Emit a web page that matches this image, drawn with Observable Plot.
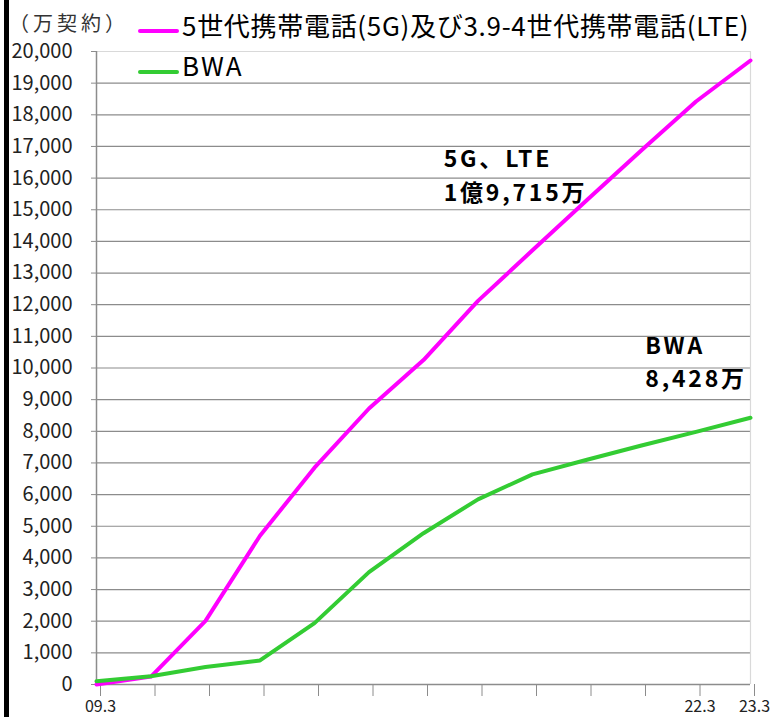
<!DOCTYPE html>
<html>
<head>
<meta charset="utf-8">
<script src="https://cdn.jsdelivr.net/npm/d3@7"></script>
<script src="https://cdn.jsdelivr.net/npm/@observablehq/plot@0.6"></script>
<style>
  html, body { margin: 0; padding: 0; background: #fff; }
  #wrap { position: relative; width: 779px; height: 717px; overflow: hidden; font-family: 'Noto Sans CJK JP', sans-serif; }
  #bar { position: absolute; left: 4px; top: 0; width: 5px; height: 717px; background: #000; }
  .lg { position: absolute; white-space: nowrap; line-height: 1; }
  .sw { position: absolute; height: 4px; width: 41px; border-radius: 2px; }
  #chart [font-weight="bold"], #chart [font-weight="bold"] text { letter-spacing: 2.8px; }
</style>
</head>
<body>
<div id="wrap">
  <div id="chart"></div>
  <div id="bar"></div>
  <div class="lg" id="unit" style="left:9px; top:13px; font-size:20px; color:#333; letter-spacing:4px;"></div>
  <div class="sw" id="sw1" style="left:138px; top:29px;"></div>
  <div class="lg" id="lt1" style="left:182px; top:12px; font-size:26px; color:#000; letter-spacing:0.7px;"></div>
  <div class="sw" id="sw2" style="left:138px; top:70px;"></div>
  <div class="lg" id="lt2" style="left:182px; top:52px; font-size:26px; color:#000; letter-spacing:2px;"></div>
</div>
<script>
// ---- data ----
const xTickLabels = ["09.3", "", "", "", "", "", "", "", "", "", "", "22.3", "23.3"];
const lteValues = [0, 250, 2010, 4700, 6850, 8720, 10250, 12120, 13720, 15310, 16880, 18420, 19715];
const bwaValues = [100, 260, 550, 760, 1940, 3550, 4780, 5850, 6640, 7100, 7550, 7980, 8428];
const yTicks = [0, 1000, 2000, 3000, 4000, 5000, 6000, 7000, 8000, 9000, 10000,
                11000, 12000, 13000, 14000, 15000, 16000, 17000, 18000, 19000, 20000];
const seriesNames = ["5世代携帯電話(5G)及び3.9-4世代携帯電話(LTE)", "BWA"];
const seriesColors = ["#ff00ff", "#33cc33"];
const unitLabel = "（万契約）";
const annoText = ["5G、LTE\n1億9,715万", "BWA\n8,428万"];
const annoX = [6.37, 10.07];
const annoY = [16150, 10264];

// ---- tables ----
const idx = xTickLabels.map((_, i) => i);
const lte = idx.map(i => ({i, v: lteValues[i]}));
const bwa = idx.map(i => ({i, v: bwaValues[i]}));
const annos = annoText.map((t, k) => ({x: annoX[k], y: annoY[k], t}));
const gridVals = yTicks.filter(v => v > 0 && v < 20000);

const chart = Plot.plot({
  width: 779,
  height: 717,
  marginLeft: 96,
  marginRight: 29,
  marginTop: 51,
  marginBottom: 33,
  style: {fontFamily: "'Noto Sans CJK JP', sans-serif", background: "transparent", overflow: "visible"},
  x: {type: "linear", domain: [0, idx.length - 1]},
  y: {domain: [0, 20000]},
  marks: [
    Plot.ruleY(gridVals, {stroke: "#8c8c8c", strokeWidth: 1.2}),
    Plot.ruleY([20000], {stroke: "#d9d9d9", strokeWidth: 1.2}),
    Plot.ruleX([idx.length - 1], {stroke: "#d9d9d9", strokeWidth: 1.2}),
    Plot.ruleX([0], {stroke: "#8c8c8c", strokeWidth: 1.5}),
    Plot.ruleY([0], {stroke: "#8c8c8c", strokeWidth: 1.5}),
    Plot.axisY({ticks: yTicks, tickSize: 5, tickPadding: 19, tickFormat: d3.format(","), fontSize: 20, fill: "#222", stroke: "#8c8c8c", label: null}),
    Plot.axisX({ticks: idx, tickSize: 12, tickPadding: 4, tickFormat: i => xTickLabels[i], fontSize: 16, dx: 4, fill: "#222", stroke: "#8c8c8c", label: null}),
    Plot.line(lte, {x: "i", y: "v", stroke: seriesColors[0], strokeWidth: 4, strokeLinejoin: "round"}),
    Plot.line(bwa, {x: "i", y: "v", stroke: seriesColors[1], strokeWidth: 4, strokeLinejoin: "round"}),
    Plot.text(annos, {x: "x", y: "y", text: "t", textAnchor: "start", lineAnchor: "middle", lineHeight: 1.44, fontSize: 23, fontWeight: "bold", fill: "#000"})
  ]
});
document.getElementById("chart").appendChild(chart);
document.getElementById("unit").textContent = unitLabel;
document.getElementById("lt1").textContent = seriesNames[0];
document.getElementById("lt2").textContent = seriesNames[1];
document.getElementById("sw1").style.background = seriesColors[0];
document.getElementById("sw2").style.background = seriesColors[1];
</script>
</body>
</html>
